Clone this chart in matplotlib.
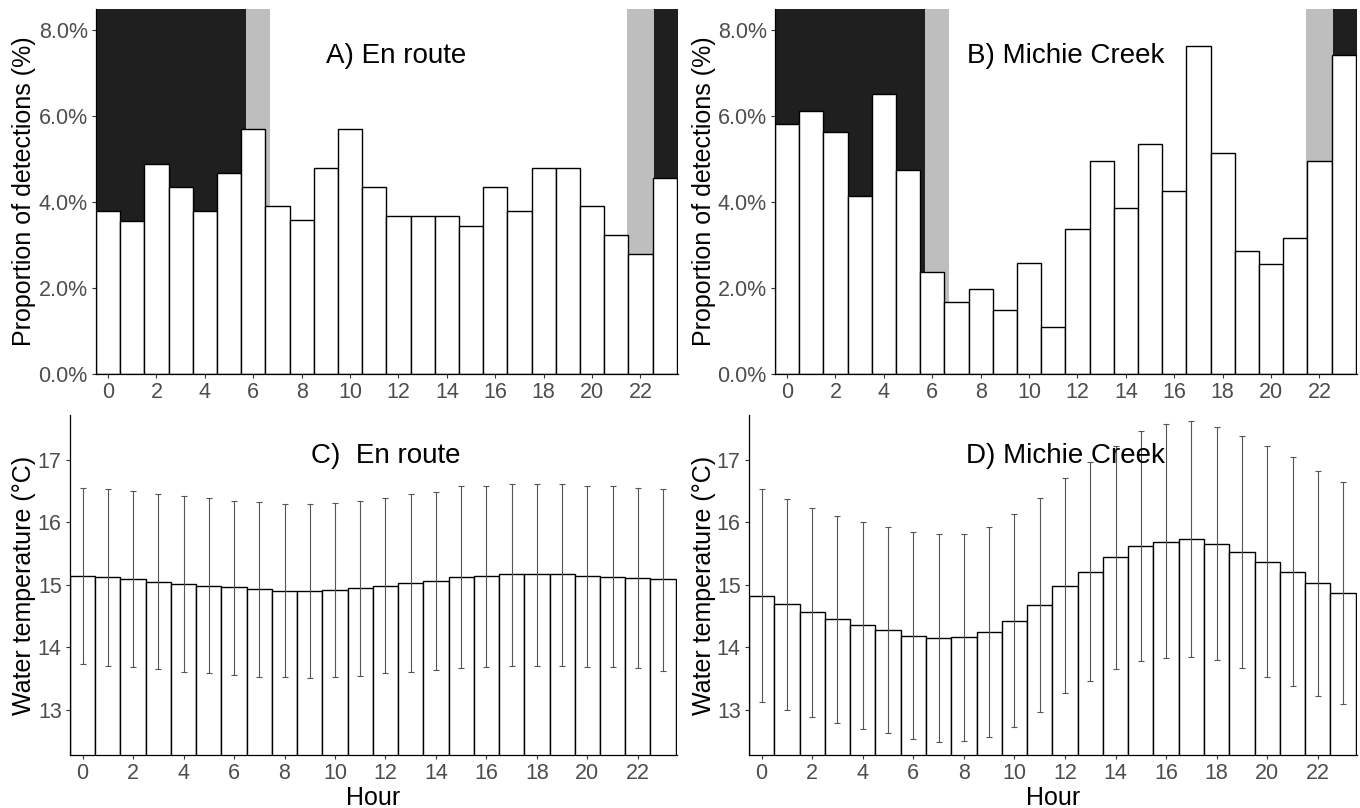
import numpy as np
import matplotlib
matplotlib.use("Agg")
import matplotlib.pyplot as plt
import matplotlib.ticker as ticker

plt.rcParams["font.family"] = ["Liberation Sans", "DejaVu Sans"]

hours = np.arange(24)

# proportion of detections (%) by hour
det_enroute = [3.79, 3.56, 4.89, 4.35, 3.79, 4.68, 5.70, 3.91, 3.58, 4.80, 5.70, 4.35,
               3.68, 3.68, 3.68, 3.45, 4.35, 3.80, 4.79, 4.79, 3.91, 3.24, 2.79, 4.57]
det_michie = [5.83, 6.13, 5.63, 4.15, 6.52, 4.74, 2.38, 1.68, 1.98, 1.49, 2.58, 1.09,
              3.38, 4.95, 3.87, 5.35, 4.26, 7.64, 5.15, 2.87, 2.57, 3.17, 4.95, 7.43]

# night / twilight bands (hour start, hour end)
night_spans = [(-0.5, 5.7), (22.55, 23.6)]
twilight_spans = [(5.7, 6.7), (21.45, 22.55)]

# water temperature mean and error bar ends
temp_enroute = [15.14, 15.12, 15.09, 15.05, 15.02, 14.99, 14.96, 14.93, 14.90, 14.90, 14.92, 14.95,
                14.99, 15.03, 15.06, 15.12, 15.15, 15.17, 15.17, 15.17, 15.15, 15.13, 15.11, 15.09]
hi_enroute = [16.56, 16.53, 16.51, 16.46, 16.42, 16.39, 16.35, 16.32, 16.30, 16.29, 16.31, 16.35,
              16.40, 16.45, 16.48, 16.58, 16.59, 16.61, 16.62, 16.62, 16.59, 16.58, 16.56, 16.54]
lo_enroute = [13.73, 13.70, 13.68, 13.65, 13.61, 13.59, 13.56, 13.53, 13.52, 13.51, 13.53, 13.54,
              13.59, 13.61, 13.64, 13.67, 13.69, 13.71, 13.71, 13.71, 13.69, 13.68, 13.67, 13.63]

temp_michie = [14.83, 14.69, 14.56, 14.45, 14.36, 14.28, 14.19, 14.15, 14.16, 14.24, 14.43, 14.68,
               14.98, 15.21, 15.44, 15.62, 15.69, 15.74, 15.66, 15.53, 15.37, 15.21, 15.03, 14.87]
hi_michie = [16.53, 16.38, 16.24, 16.11, 16.01, 15.92, 15.85, 15.81, 15.82, 15.92, 16.13, 16.39,
             16.71, 16.96, 17.23, 17.46, 17.58, 17.62, 17.53, 17.39, 17.22, 17.05, 16.83, 16.64]
lo_michie = [13.13, 13.00, 12.89, 12.79, 12.70, 12.63, 12.54, 12.49, 12.50, 12.57, 12.73, 12.97,
             13.27, 13.47, 13.65, 13.79, 13.83, 13.84, 13.80, 13.67, 13.52, 13.39, 13.23, 13.10]

NIGHT = "#1f1f1f"
TWILIGHT = "#bebebe"
TICK_COL = "#4d4d4d"

fig = plt.figure(figsize=(13.6, 8.08), dpi=100)
ax_a = fig.add_axes([96 / 1360, 1 - 374 / 808, 582 / 1360, 365 / 808])
ax_b = fig.add_axes([775 / 1360, 1 - 374 / 808, 582 / 1360, 365 / 808])
ax_c = fig.add_axes([70 / 1360, 1 - 755 / 808, 607 / 1360, 340 / 808])
ax_d = fig.add_axes([749 / 1360, 1 - 755 / 808, 608 / 1360, 340 / 808])


def style(ax):
    for s in ["top", "right"]:
        ax.spines[s].set_visible(False)
    for s in ["left", "bottom"]:
        ax.spines[s].set_linewidth(0.9)
        ax.spines[s].set_color("black")
    ax.set_xlim(-0.5, 23.55)
    ax.set_xticks(np.arange(0, 24, 2))
    ax.tick_params(labelsize=15.5, labelcolor=TICK_COL, color="#333333",
                   length=3, width=0.8, pad=3)


def detection_panel(ax, values, title, tx, lab_x):
    for a, b in night_spans:
        ax.axvspan(a, b, color=NIGHT, lw=0, zorder=0)
    for a, b in twilight_spans:
        ax.axvspan(a, b, color=TWILIGHT, lw=0, zorder=0)
    ax.bar(hours, values, width=1, color="white", edgecolor="black", lw=1.0, zorder=2)
    style(ax)
    ax.set_ylim(0, 8.5)
    ax.set_yticks([0, 2, 4, 6, 8])
    ax.yaxis.set_major_formatter(ticker.FuncFormatter(lambda v, _: f"{v:.1f}%"))
    ax.set_ylabel("Proportion of detections (%)", fontsize=18, va="center")
    ax.yaxis.set_label_coords(lab_x, 0.5)
    ax.text(tx, 7.25, title, fontsize=20, ha="center", va="baseline", zorder=3)


def temp_panel(ax, mean, lo, hi, title, lab_x):
    mean = np.array(mean)
    ax.bar(hours, mean, width=1, color="white", edgecolor="black", lw=1.0, zorder=2)
    yerr = [mean - np.array(lo), np.array(hi) - mean]
    ax.errorbar(hours, mean, yerr=yerr, fmt="none", ecolor="#555555",
                elinewidth=0.8, capsize=2, capthick=0.8, zorder=3)
    style(ax)
    ax.set_ylim(12.28, 17.72)
    ax.set_yticks([13, 14, 15, 16, 17])
    ax.set_ylabel("Water temperature (\u00b0C)", fontsize=18, va="center")
    ax.yaxis.set_label_coords(lab_x, 0.5)
    ax.set_xlabel("Hour", fontsize=18, va="top")
    ax.xaxis.set_label_coords(0.5, -0.09)
    ax.text(12, 16.95, title, fontsize=20, ha="center", va="baseline", zorder=4)


detection_panel(ax_a, det_enroute, "A) En route", 11.9, -0.124)
detection_panel(ax_b, det_michie, "B) Michie Creek", 11.5, -0.122)
temp_panel(ax_c, temp_enroute, lo_enroute, hi_enroute, "C)  En route", -0.076)
temp_panel(ax_d, temp_michie, lo_michie, hi_michie, "D) Michie Creek", -0.074)

fig.savefig("out.png", dpi=100)
